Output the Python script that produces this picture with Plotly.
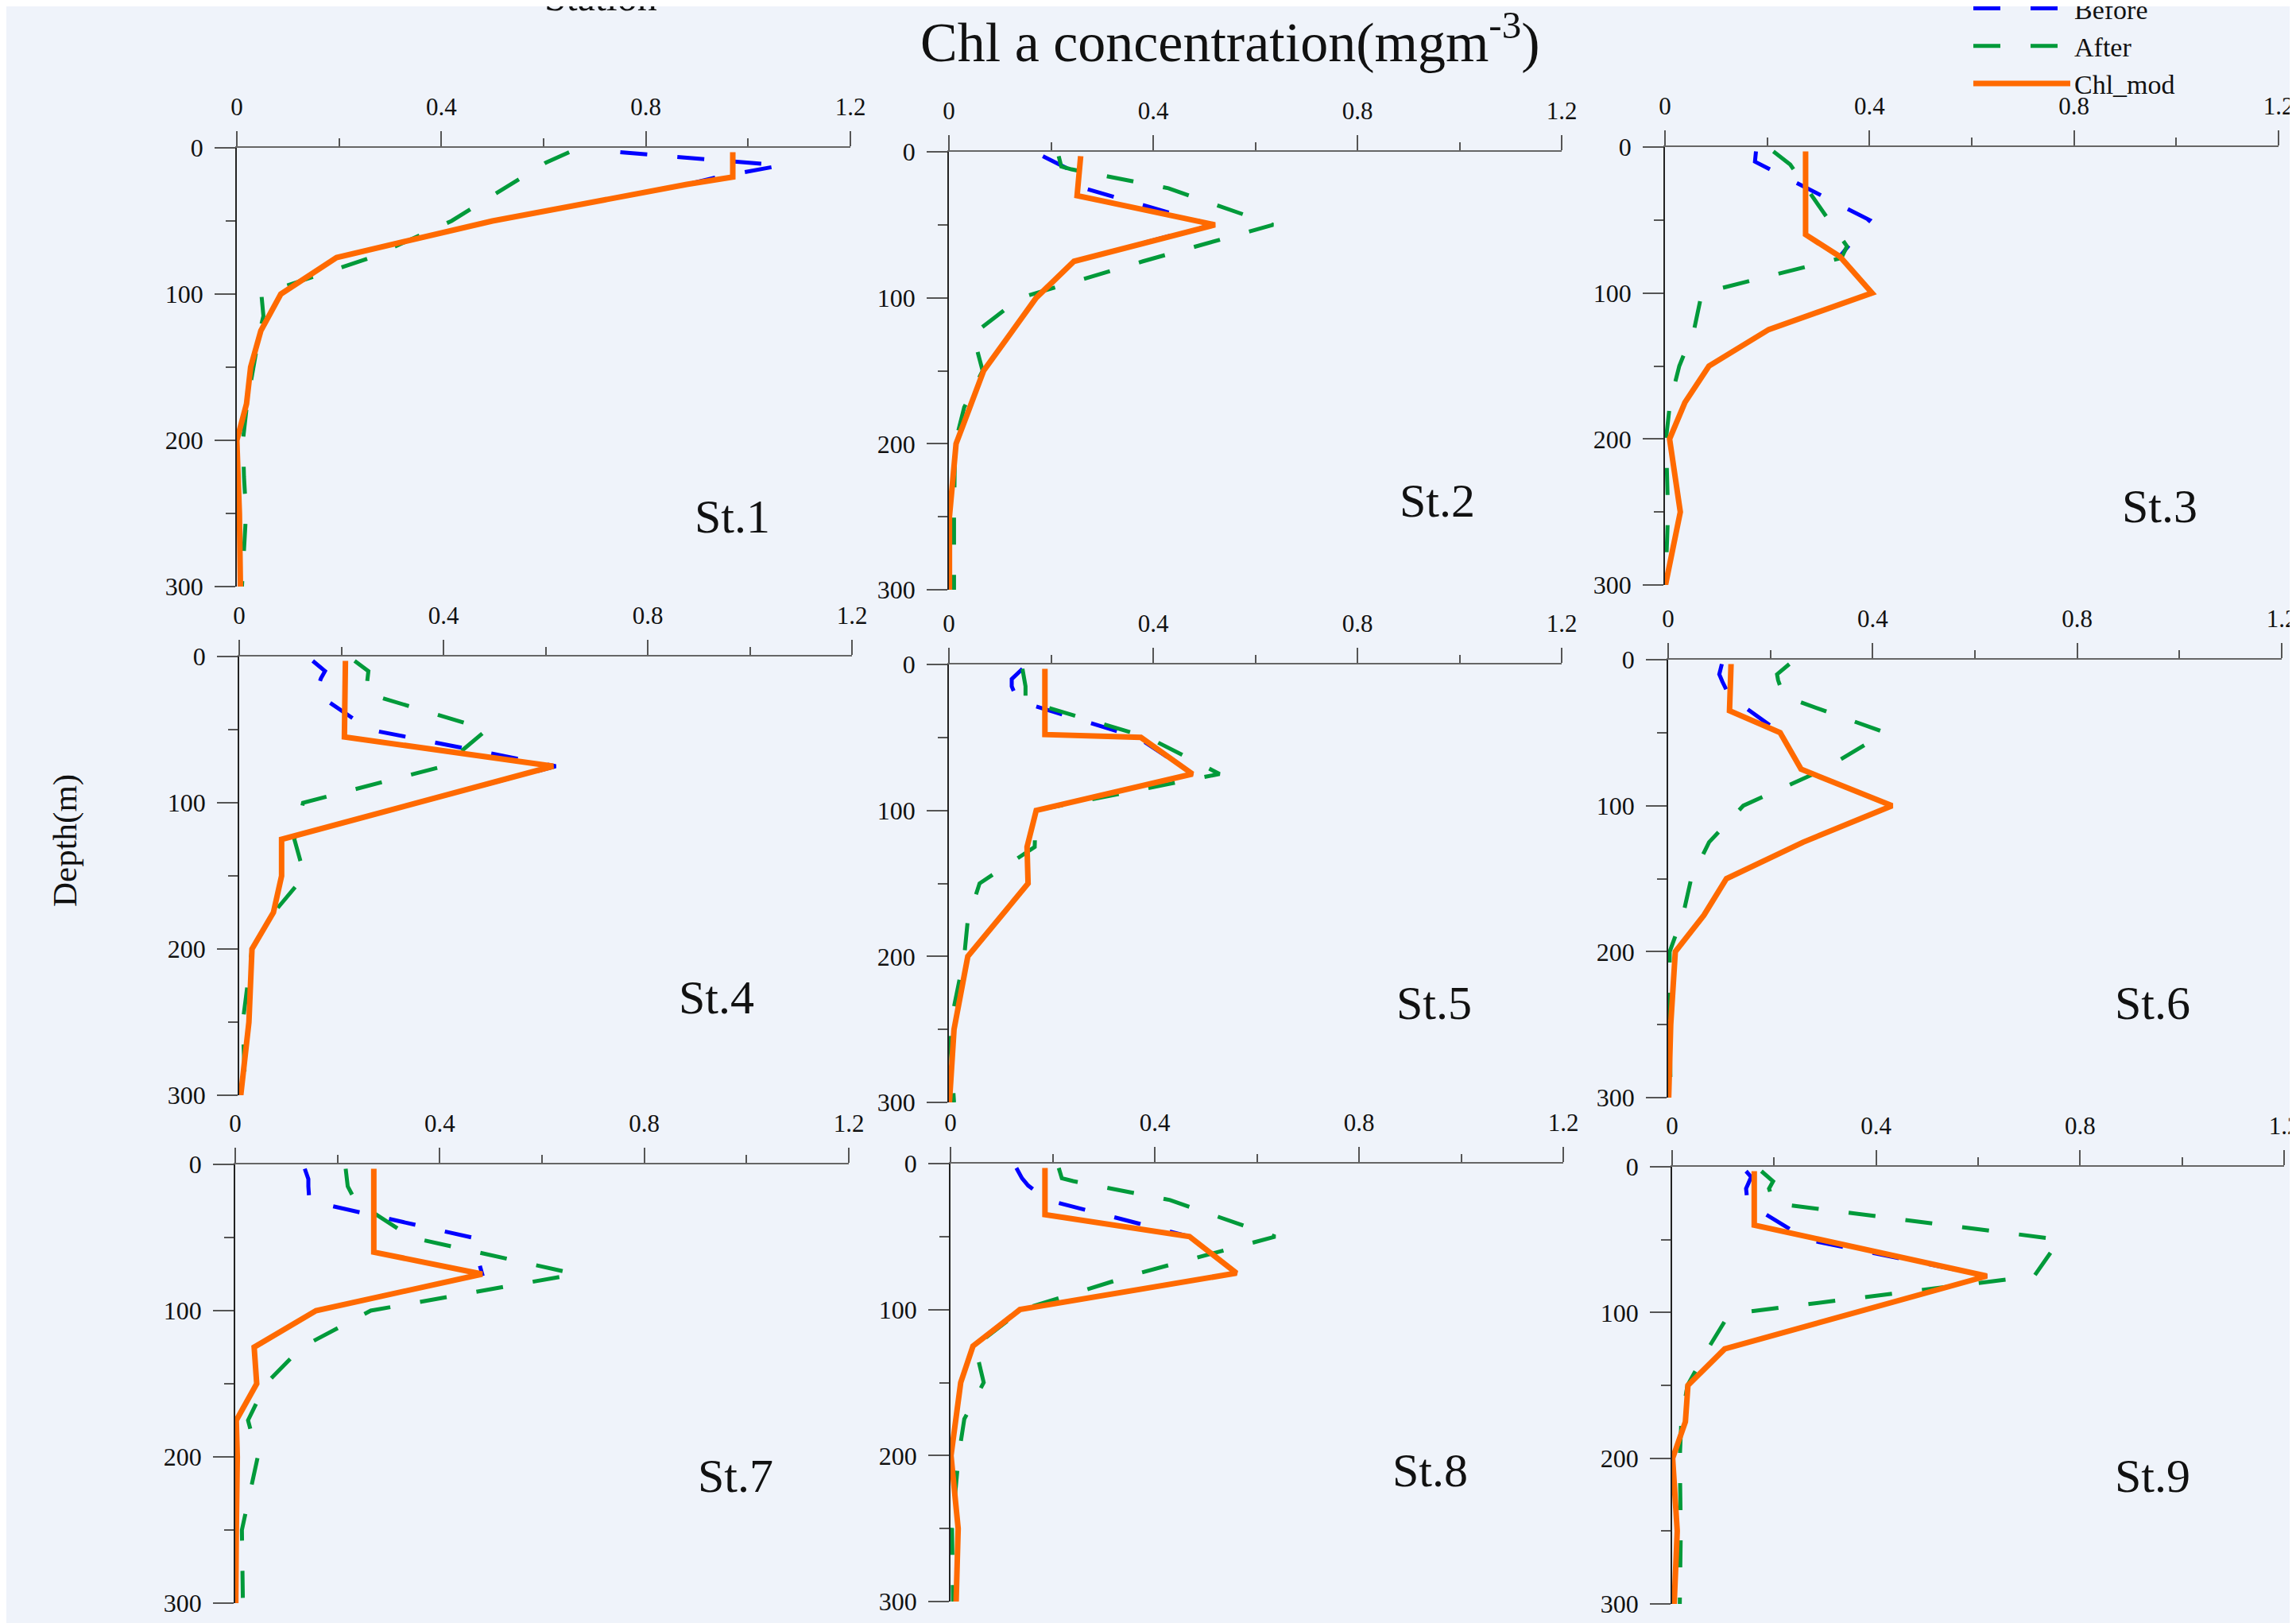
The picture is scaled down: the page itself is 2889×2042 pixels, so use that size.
import plotly.graph_objects as go

W, H = 2889, 2042

# ---------------- data (depth in m, Chl a in mg m-3) ----------------
st1_before_z = [3, 12, 20, 25, 50, 75, 100, 125, 150, 175, 200, 250, 300]
st1_before = [0.75, 1.065, 0.94, 0.88, 0.50, 0.195, 0.086, 0.047, 0.027, 0.019, 0.0, 0.005, 0.007]
st1_after_z = [3, 10, 50, 75, 100, 115, 125, 150, 175, 200, 225, 250, 300]
st1_after = [0.65, 0.605, 0.42, 0.262, 0.048, 0.052, 0.045, 0.032, 0.02, 0.012, 0.014, 0.018, 0.01]
st1_mod_z = [3, 20, 25, 50, 75, 100, 125, 150, 175, 200, 250, 300]
st1_mod = [0.97, 0.97, 0.88, 0.50, 0.195, 0.086, 0.047, 0.027, 0.019, 0.0, 0.005, 0.007]

st2_before_z = [3, 12, 25, 50, 75, 100, 150, 175, 200, 250, 300]
st2_before = [0.184, 0.235, 0.265, 0.515, 0.245, 0.171, 0.068, 0.041, 0.014, 0.001, 0.001]
st2_after_z = [3, 10, 12, 25, 50, 75, 100, 125, 150, 175, 200, 250, 300]
st2_after = [0.215, 0.22, 0.24, 0.43, 0.635, 0.38, 0.14, 0.047, 0.066, 0.03, 0.012, 0.01, 0.01]
st2_mod_z = [3, 30, 50, 75, 100, 150, 175, 200, 250, 300]
st2_mod = [0.258, 0.251, 0.521, 0.245, 0.171, 0.068, 0.041, 0.014, 0.001, 0.001]

st3_before_z = [3, 10, 50, 75, 100, 125, 150, 175, 200, 250, 300]
st3_before = [0.178, 0.176, 0.40, 0.342, 0.405, 0.203, 0.086, 0.039, 0.009, 0.03, 0.001]
st3_after_z = [3, 12, 68, 76, 100, 125, 150, 175, 200, 250, 300]
st3_after = [0.212, 0.245, 0.356, 0.345, 0.072, 0.057, 0.028, 0.01, 0.002, 0.006, 0.001]
st3_mod_z = [3, 60, 75, 100, 125, 150, 175, 200, 250, 300]
st3_mod = [0.275, 0.275, 0.342, 0.405, 0.203, 0.086, 0.039, 0.009, 0.03, 0.001]

st4_before_z = [3, 10, 15, 25, 50, 75, 100, 125, 150, 175, 200, 250, 300]
st4_before = [0.144, 0.168, 0.16, 0.15, 0.255, 0.62, 0.35, 0.083, 0.083, 0.067, 0.025, 0.019, 0.003]
st4_after_z = [3, 10, 25, 50, 75, 100, 125, 150, 175, 200, 250, 300]
st4_after = [0.226, 0.253, 0.248, 0.485, 0.40, 0.125, 0.108, 0.128, 0.068, 0.025, 0.007, 0.012]
st4_mod_z = [3, 55, 75, 125, 150, 175, 200, 250, 300]
st4_mod = [0.208, 0.206, 0.615, 0.083, 0.083, 0.067, 0.025, 0.019, 0.003]

st5_before_z = [3, 10, 15, 25, 50, 75, 100, 125, 150, 200, 250, 300]
st5_before = [0.144, 0.123, 0.123, 0.135, 0.37, 0.477, 0.171, 0.153, 0.155, 0.037, 0.01, 0.001]
st5_after_z = [3, 15, 25, 50, 75, 100, 125, 150, 175, 200, 250, 300]
st5_after = [0.144, 0.15, 0.15, 0.39, 0.53, 0.17, 0.168, 0.06, 0.037, 0.03, 0.001, 0.01]
st5_mod_z = [3, 48, 50, 75, 100, 125, 150, 200, 250, 300]
st5_mod = [0.188, 0.188, 0.376, 0.477, 0.171, 0.153, 0.155, 0.037, 0.01, 0.001]

st6_before_z = [3, 10, 15, 25, 50, 75, 100, 125, 150, 175, 200, 250, 300]
st6_before = [0.105, 0.1, 0.106, 0.12, 0.219, 0.26, 0.438, 0.264, 0.114, 0.07, 0.014, 0.005, 0.001]
st6_after_z = [3, 10, 14, 25, 50, 75, 100, 125, 150, 175, 200, 250, 300]
st6_after = [0.237, 0.213, 0.215, 0.226, 0.425, 0.305, 0.147, 0.08, 0.045, 0.029, 0.003, 0.003, 0.005]
st6_mod_z = [3, 35, 50, 75, 100, 125, 150, 175, 200, 250, 300]
st6_mod = [0.123, 0.12, 0.219, 0.26, 0.438, 0.264, 0.114, 0.07, 0.014, 0.005, 0.001]

st7_before_z = [3, 10, 15, 25, 50, 75, 100, 125, 150, 175, 200, 250, 300]
st7_before = [0.136, 0.143, 0.143, 0.145, 0.463, 0.483, 0.158, 0.037, 0.042, 0.002, 0.004, 0.002, 0.001]
st7_after_z = [3, 15, 25, 50, 75, 100, 125, 150, 175, 200, 250, 300]
st7_after = [0.216, 0.22, 0.235, 0.345, 0.666, 0.265, 0.13, 0.06, 0.025, 0.044, 0.013, 0.015]
st7_mod_z = [3, 60, 75, 100, 125, 150, 175, 200, 250, 300]
st7_mod = [0.271, 0.271, 0.483, 0.158, 0.037, 0.042, 0.002, 0.004, 0.002, 0.001]

st8_before_z = [3, 10, 15, 25, 50, 75, 100, 125, 150, 200, 250, 300]
st8_before = [0.129, 0.14, 0.152, 0.19, 0.468, 0.56, 0.136, 0.044, 0.02, 0.001, 0.015, 0.011]
st8_after_z = [3, 10, 12, 25, 50, 75, 100, 125, 150, 175, 200, 250, 300]
st8_after = [0.212, 0.218, 0.24, 0.43, 0.636, 0.37, 0.14, 0.048, 0.065, 0.027, 0.016, 0.003, 0.005]
st8_mod_z = [3, 35, 50, 75, 100, 125, 150, 200, 250, 300]
st8_mod = [0.185, 0.185, 0.468, 0.56, 0.136, 0.044, 0.02, 0.001, 0.015, 0.011]

st9_before_z = [3, 7, 15, 25, 50, 75, 125, 150, 175, 200, 250, 300]
st9_before = [0.145, 0.155, 0.145, 0.148, 0.265, 0.617, 0.103, 0.031, 0.026, 0.001, 0.01, 0.004]
st9_after_z = [3, 10, 15, 25, 50, 75, 100, 105, 125, 150, 175, 200, 250, 300]
st9_after = [0.175, 0.198, 0.19, 0.2, 0.76, 0.71, 0.135, 0.105, 0.07, 0.03, 0.018, 0.015, 0.017, 0.015]
st9_mod_z = [3, 40, 75, 125, 150, 175, 200, 250, 300]
st9_mod = [0.161, 0.161, 0.617, 0.103, 0.031, 0.026, 0.001, 0.01, 0.004]

station_names = ["St.1", "St.2", "St.3", "St.4", "St.5", "St.6", "St.7", "St.8", "St.9"]
series_names = ["Before", "After", "Chl_mod"]
x_tick_vals = [0, 0.4, 0.8, 1.2]
y_tick_vals = [0, 100, 200, 300]

# ---------------- layout helpers ----------------
stations = [
    (st1_before_z, st1_before, st1_after_z, st1_after, st1_mod_z, st1_mod),
    (st2_before_z, st2_before, st2_after_z, st2_after, st2_mod_z, st2_mod),
    (st3_before_z, st3_before, st3_after_z, st3_after, st3_mod_z, st3_mod),
    (st4_before_z, st4_before, st4_after_z, st4_after, st4_mod_z, st4_mod),
    (st5_before_z, st5_before, st5_after_z, st5_after, st5_mod_z, st5_mod),
    (st6_before_z, st6_before, st6_after_z, st6_after, st6_mod_z, st6_mod),
    (st7_before_z, st7_before, st7_after_z, st7_after, st7_mod_z, st7_mod),
    (st8_before_z, st8_before, st8_after_z, st8_after, st8_mod_z, st8_mod),
    (st9_before_z, st9_before, st9_after_z, st9_after, st9_mod_z, st9_mod),
]

# panel boxes in pixels: left, right, top, bottom
boxes = [
    (290, 1062, 178, 730), (1186, 1957, 183, 734), (2087, 2859, 177, 728),
    (293, 1064, 818, 1370), (1186, 1957, 828, 1379), (2091, 2863, 822, 1373),
    (288, 1060, 1457, 2009), (1188, 1959, 1456, 2007), (2096, 2866, 1460, 2010),
]
label_pos = [(0.969, 252), (0.956, 239), (0.967, 246), (0.935, 233), (0.95, 232),
             (0.948, 235), (0.979, 213), (0.94, 210), (0.942, 212)]

FONT = "Liberation Serif, Times New Roman, serif"
BLUE, GREEN, ORANGE = "#0000FF", "#009A3A", "#FF6A00"
DASH = "34px,38px"

fig = go.Figure()
layout = {}
annotations = []
for i, (bz, bv, az, av, mz, mv) in enumerate(stations):
    k = "" if i == 0 else str(i + 1)
    xa, ya = "x" + k, "y" + k
    fig.add_trace(go.Scatter(x=bv, y=bz, mode="lines", name=series_names[0], legendgroup="b",
                             showlegend=(i == 0), xaxis=xa, yaxis=ya,
                             line=dict(color=BLUE, width=5, dash=DASH)))
    fig.add_trace(go.Scatter(x=av, y=az, mode="lines", name=series_names[1], legendgroup="a",
                             showlegend=(i == 0), xaxis=xa, yaxis=ya,
                             line=dict(color=GREEN, width=5, dash=DASH)))
    fig.add_trace(go.Scatter(x=mv, y=mz, mode="lines", name=series_names[2], legendgroup="m",
                             showlegend=(i == 0), xaxis=xa, yaxis=ya,
                             line=dict(color=ORANGE, width=7)))
    l, r, t, b = boxes[i]
    layout["xaxis" + k] = dict(
        domain=[l / W, r / W], anchor=ya, side="top", range=[0, 1.2],
        tickmode="array", tickvals=x_tick_vals, ticktext=["0", "0.4", "0.8", "1.2"],
        ticks="outside", ticklen=19, tickwidth=1.5, tickcolor="#555",
        showline=True, linecolor="#666", linewidth=2,
        showgrid=False, zeroline=False, ticklabelstandoff=8,
        tickfont=dict(family=FONT, size=31, color="#111"),
        minor=dict(dtick=0.2, tick0=0, ticks="outside", ticklen=10, tickwidth=1.5,
                   tickcolor="#555", showgrid=False),
    )
    layout["yaxis" + k] = dict(
        domain=[1 - b / H, 1 - t / H], anchor=xa, range=[300, 0],
        tickmode="array", tickvals=y_tick_vals, ticktext=[str(v) for v in y_tick_vals],
        ticks="outside", ticklen=26, tickwidth=1.5, tickcolor="#555",
        showline=True, linecolor="#222", linewidth=1.5,
        showgrid=False, zeroline=False, ticklabelstandoff=8,
        tickfont=dict(family=FONT, size=32, color="#111"),
        minor=dict(dtick=50, tick0=0, ticks="outside", ticklen=12, tickwidth=1.5,
                   tickcolor="#555", showgrid=False),
    )
    lx, ly = label_pos[i]
    annotations.append(dict(text=station_names[i], x=lx, y=ly, xref=xa, yref=ya,
                            showarrow=False, xanchor="center", yanchor="middle",
                            font=dict(family=FONT, size=60, color="#111")))

annotations.append(dict(text="Chl a concentration(mgm<sup>-3</sup>)", x=1540 / W, y=1 - 40 / H,
                        xref="paper", yref="paper", showarrow=False,
                        xanchor="center", yanchor="middle",
                        font=dict(family=FONT, size=70, color="#111")))
annotations.append(dict(text="Depth(m)", x=74 / W, y=1 - 1050 / H, xref="paper", yref="paper",
                        showarrow=False, textangle=-90, xanchor="center", yanchor="middle",
                        font=dict(family=FONT, size=43, color="#111")))
annotations.append(dict(text="Station", x=748 / W, y=1 + 12 / H, xref="paper", yref="paper",
                        showarrow=False, xanchor="center", yanchor="middle",
                        font=dict(family=FONT, size=50, color="#111")))

fig.update_layout(
    width=W, height=H,
    margin=dict(l=0, r=0, t=0, b=0, pad=0, autoexpand=False),
    paper_bgcolor="#EFF3FA", plot_bgcolor="#EFF3FA",
    showlegend=True,
    legend=dict(x=2470 / W, y=1 + 26 / H, xanchor="left", yanchor="top",
                bgcolor="rgba(0,0,0,0)", itemwidth=122, tracegroupgap=0,
                font=dict(family=FONT, size=34, color="#111")),
    annotations=annotations,
    **layout,
)

fig.write_html("out.html")
